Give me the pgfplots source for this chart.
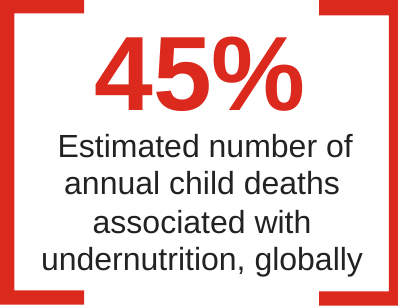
\documentclass[border=0pt]{standalone}
\usepackage{pgfplots}
\pgfplotsset{compat=1.18}
\usepackage{fontspec}
\setmainfont{Liberation Sans}
\definecolor{brk}{RGB}{220,41,30}
\definecolor{txt}{RGB}{34,34,34}
\begin{document}
\begin{tikzpicture}
\begin{axis}[
  scale only axis, width=398pt, height=307pt,
  xmin=0, xmax=398, ymin=0, ymax=307,
  hide axis, clip=true,
]
% left bracket (y = 307 - image y)
\addplot[fill=brk, draw=none] coordinates {
  (10,298) (92,298) (92,285) (24,285) (24,15) (92,15) (92,1) (10,1) (10,298)
};
% right bracket
\addplot[fill=brk, draw=none] coordinates {
  (321,298) (398,298) (398,0) (321,0) (321,14) (389,14) (389,283) (321,283) (321,298)
};
\node[anchor=base, text=brk, font=\fontsize{103}{103}\selectfont\bfseries, inner sep=0pt] at (axis cs:205,190) {45\%};
\node[anchor=base, text=txt, font=\fontsize{31.2}{31.2}\selectfont, inner sep=0pt] at (axis cs:210,144) {Estimated number of};
\node[anchor=base, text=txt, font=\fontsize{31.2}{31.2}\selectfont, inner sep=0pt] at (axis cs:207,108) {annual child deaths};
\node[anchor=base, text=txt, font=\fontsize{31.2}{31.2}\selectfont, inner sep=0pt] at (axis cs:207,70) {associated with};
\node[anchor=base, text=txt, font=\fontsize{31.2}{31.2}\selectfont, inner sep=0pt] at (axis cs:207,34) {undernutrition, globally};
\end{axis}
\end{tikzpicture}
\end{document}
